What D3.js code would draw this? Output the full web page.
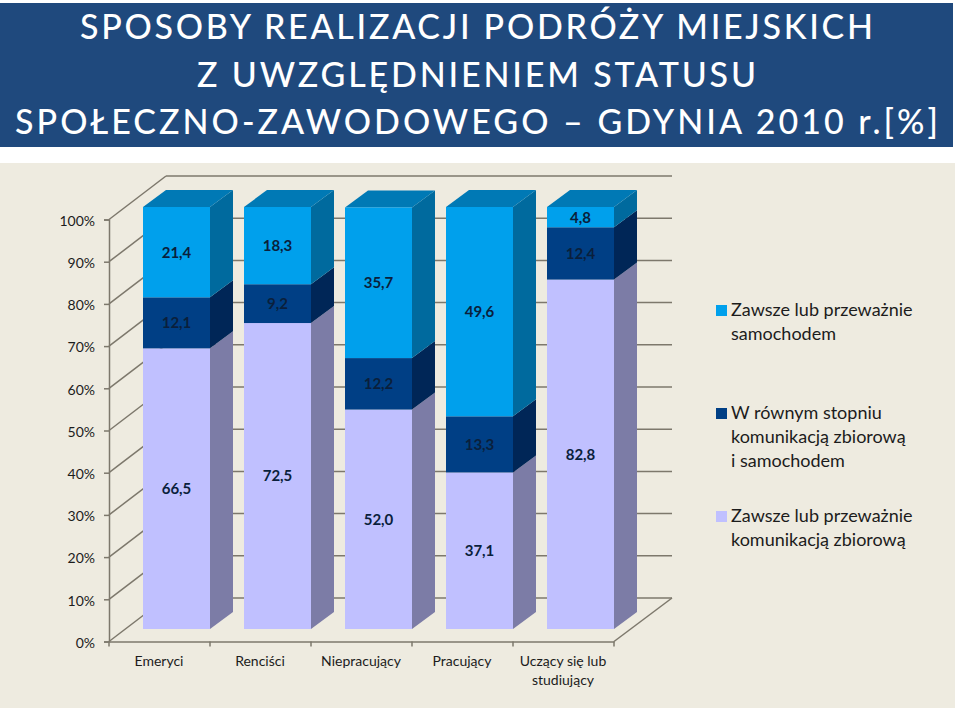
<!DOCTYPE html>
<html>
<head>
<meta charset="utf-8">
<script src="https://cdn.jsdelivr.net/npm/d3@7"></script>
<style>
  html, body { margin: 0; padding: 0; background: #fff; }
  text { font-family: Lato, "Open Sans", sans-serif; }
</style>
</head>
<body>
<div id="chart"></div>
<script>
const titleLines = [
  "SPOSOBY REALIZACJI PODRÓŻY MIEJSKICH",
  "Z UWZGLĘDNIENIEM STATUSU",
  "SPOŁECZNO-ZAWODOWEGO – GDYNIA 2010 r.[%]"
];
const categories = ["Emeryci", "Renciści", "Niepracujący", "Pracujący", "Uczący się lub|studiujący"];
const seriesNames = ["transit", "both", "car"];
const transit = [66.5, 72.5, 52.0, 37.1, 82.8];
const both = [12.1, 9.2, 12.2, 13.3, 12.4];
const car = [21.4, 18.3, 35.7, 49.6, 4.8];
const yTicks = [0, 10, 20, 30, 40, 50, 60, 70, 80, 90, 100];
const legendLabels = [
  ["Zawsze lub przeważnie", "samochodem"],
  ["W równym stopniu", "komunikacją zbiorową", "i samochodem"],
  ["Zawsze lub przeważnie", "komunikacją zbiorową"]
];

const width = 960, height = 713;
const colors = {
  car:     { front: "#00a0ec", side: "#006a9e", top: "#0079b5" },
  both:    { front: "#003f85", side: "#002657", top: "#003066" },
  transit: { front: "#c0c0ff", side: "#7c7ca6", top: "#9090c0" }
};
const ink = "#1c1c1c", grid = "#7d786c";

const svg = d3.select("#chart").append("svg")
  .attr("width", width)
  .attr("height", height)
  .style("display", "block");

// header band
svg.append("rect").attr("x", 0).attr("y", 3).attr("width", 953).attr("height", 144).attr("fill", "#1f497d");
const titleY = [39, 87, 134], titleWidth = [793, 559, 923], titleX = [80, 197, 15];
svg.selectAll(".title").data(titleLines).enter().append("text")
  .attr("class", "title")
  .attr("x", (d, i) => titleX[i])
  .attr("y", (d, i) => titleY[i])
  .attr("font-size", 34)
  .attr("font-weight", 500)
  .attr("textLength", (d, i) => titleWidth[i])
  .attr("lengthAdjust", "spacing")
  .attr("fill", "#fff")
  .text(d => d);

// chart panel
svg.append("rect").attr("x", 0).attr("y", 163).attr("width", 955).attr("height", 545).attr("fill", "#eeebe0");

// scales: the axis sits on the front edge of the floor, the bars a bit further in
const x = d3.scaleBand().domain(categories).range([109, 614]);
const yAxisScale = d3.scaleLinear().domain([0, 100]).range([641.5, 219.5]);
const yWall = d3.scaleLinear().domain([0, 100]).range([598, 176]);
const yBar = d3.scaleLinear().domain([0, 100]).range([629, 207]);
const wallDx = 57, wallDy = -43.5;
const barInset = 34, barW = 67, depthX = 23, depthY = -17;

// back wall and left wall lines
const walls = svg.append("g").attr("stroke", grid).attr("stroke-width", 1.5).attr("fill", "none");
walls.selectAll(".wall").data(yTicks).enter().append("line")
  .attr("x1", 109 + wallDx).attr("x2", 672)
  .attr("y1", d => yWall(d)).attr("y2", d => yWall(d));
walls.selectAll(".side").data(yTicks).enter().append("line")
  .attr("x1", 109).attr("x2", 109 + wallDx)
  .attr("y1", d => yAxisScale(d)).attr("y2", d => yAxisScale(d) + wallDy);
walls.append("line")
  .attr("x1", 614).attr("x2", 672)
  .attr("y1", yAxisScale(0)).attr("y2", yWall(0));

// stacked bars
const rows = categories.map((c, i) => ({ category: c, transit: transit[i], both: both[i], car: car[i] }));
const stacked = d3.stack().keys(seriesNames)(rows);

const series = svg.selectAll(".series").data(stacked).enter().append("g").attr("class", "series");
series.each(function (s) {
  const c = colors[s.key];
  const g = d3.select(this);
  const bx = d => x(d.data.category) + barInset;
  g.selectAll(".side").data(s).enter().append("path")
    .attr("fill", c.side)
    .attr("d", d => {
      const r = bx(d) + barW;
      return `M${r},${yBar(d[0])}L${r + depthX},${yBar(d[0]) + depthY}L${r + depthX},${yBar(d[1]) + depthY}L${r},${yBar(d[1])}Z`;
    });
  g.selectAll(".top").data(s.key === "car" ? s : []).enter().append("path")
    .attr("fill", c.top)
    .attr("d", d => {
      const l = bx(d), t = yBar(d[1]);
      return `M${l},${t}L${l + depthX},${t + depthY}L${l + barW + depthX},${t + depthY}L${l + barW},${t}Z`;
    });
  g.selectAll(".front").data(s).enter().append("rect")
    .attr("fill", c.front)
    .attr("x", bx)
    .attr("y", d => yBar(d[1]))
    .attr("width", barW)
    .attr("height", d => yBar(d[0]) - yBar(d[1]));
  g.selectAll(".value").data(s).enter().append("text")
    .attr("x", d => bx(d) + barW / 2)
    .attr("y", d => yBar((d[0] + d[1]) / 2))
    .attr("dy", "0.36em")
    .attr("text-anchor", "middle")
    .attr("font-size", 15)
    .attr("font-weight", 700)
    .attr("fill", "#0a1f3c")
    .text(d => (d[1] - d[0]).toFixed(1).replace(".", ","));
});

// axes
const yAxis = d3.axisLeft(yAxisScale).tickValues(yTicks).tickSize(5).tickFormat(d => d + "%");
const yG = svg.append("g").attr("transform", "translate(109,0)").call(yAxis);
const xAxis = d3.axisBottom(x).tickValues([]).tickSize(0);
const xG = svg.append("g").attr("transform", `translate(0,${yAxisScale(0)})`).call(xAxis);
xG.selectAll(".edge").data(categories.concat("end")).enter().append("line")
  .attr("class", "edge")
  .attr("x1", (d, i) => 109 + i * x.bandwidth())
  .attr("x2", (d, i) => 109 + i * x.bandwidth())
  .attr("y1", 0).attr("y2", 5)
  .attr("stroke", grid).attr("stroke-width", 1.5);
[yG, xG].forEach(g => {
  g.select(".domain").attr("stroke", grid).attr("stroke-width", 1.5);
  g.selectAll(".tick line").attr("stroke", grid).attr("stroke-width", 1.5);
});
yG.selectAll(".tick text")
  .attr("font-size", 14)
  .attr("font-family", "Lato")
  .attr("fill", ink)
  .attr("x", -14)
  .attr("dy", "0.42em");

const catLabels = svg.selectAll(".cat").data(categories).enter().append("text")
  .attr("class", "cat")
  .attr("text-anchor", "middle")
  .attr("font-size", 14)
  .attr("fill", ink);
catLabels.selectAll("tspan").data(d => d.split("|").map(t => ({ t, c: d }))).enter().append("tspan")
  .attr("x", d => x(d.c) + x.bandwidth() / 2 - 0.5)
  .attr("y", (d, i) => 666 + i * 19)
  .text(d => d.t);

// legend
const legendY = [310, 413, 516];
const legendKeys = ["car", "both", "transit"];
const legend = svg.selectAll(".legend").data(legendLabels).enter().append("g")
  .attr("class", "legend")
  .attr("transform", (d, i) => `translate(716,${legendY[i]})`);
legend.append("rect")
  .attr("x", 0).attr("y", -5)
  .attr("width", 11).attr("height", 11)
  .attr("fill", (d, i) => colors[legendKeys[i]].front);
legend.selectAll("text").data(d => d).enter().append("text")
  .attr("x", 15)
  .attr("y", (d, i) => i * 24)
  .attr("dy", "0.35em")
  .attr("font-size", 18)
  .attr("fill", ink)
  .text(d => d);
</script>
</body>
</html>
